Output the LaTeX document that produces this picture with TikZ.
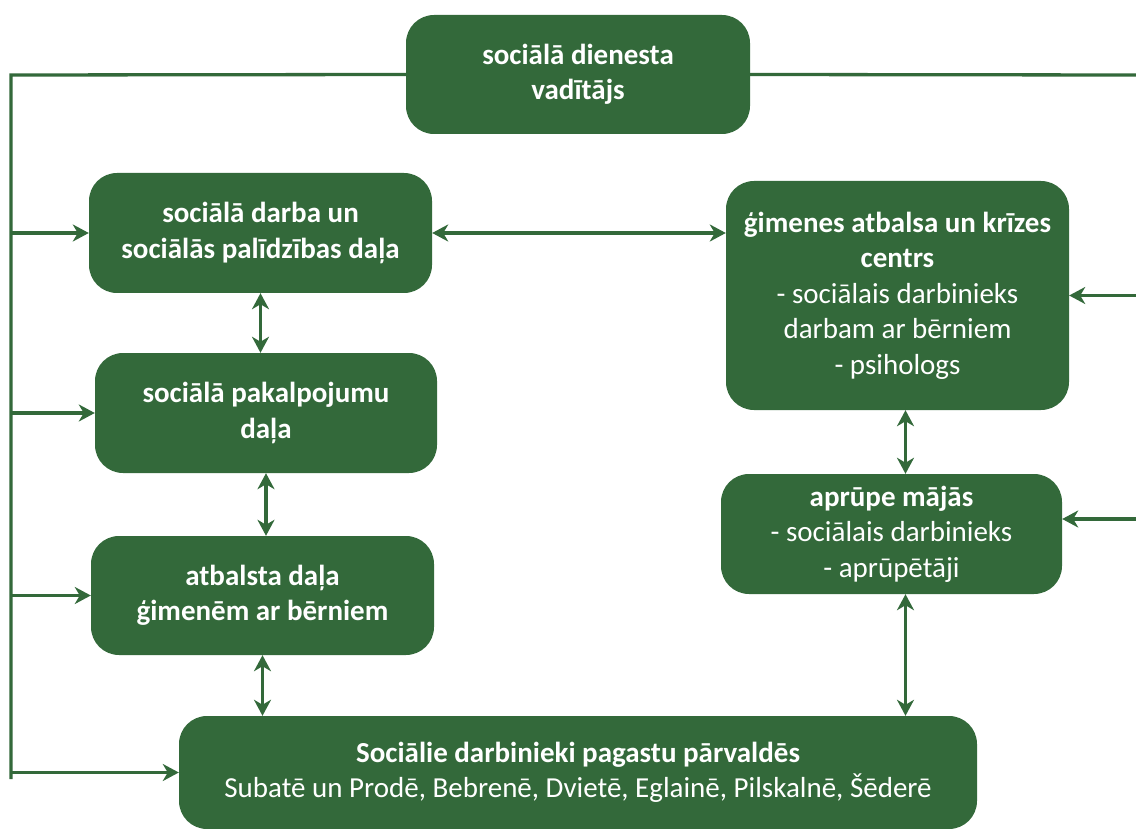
\documentclass[tikz,border=0pt]{standalone}
\usepackage{fontspec}
\setmainfont{Carlito}
\usepackage{xcolor}
\usetikzlibrary{positioning, arrows.meta}
\definecolor{darkgreen}{HTML}{33693A}

\begin{document}
\begin{tikzpicture}[x=1pt, y=-1pt,
  box/.style={fill=darkgreen, rounded corners=28pt, minimum width=343pt, minimum height=120pt, inner sep=0pt, align=center, text=white, font=\fontsize{29}{35.5}\selectfont},
  line/.style={line width=3.3pt, darkgreen},
  arr/.style={-{Stealth[length=16pt, width=17pt, inset=5pt]}, line width=3.3pt, darkgreen},
  dblarr/.style={{Stealth[length=16pt, width=17pt, inset=5pt]}-{Stealth[length=16pt, width=17pt, inset=5pt]}, line width=3.3pt, darkgreen}
]
\useasboundingbox (0,0) rectangle (1136,829);

\node[box, minimum width=344pt, minimum height=119pt] (head) at (578,74.5) {\textbf{sociālā dienesta}\\ \textbf{vadītājs}};
\node[box] (work) at (260.5,233) {\textbf{sociālā darba un}\\ \textbf{sociālās palīdzības daļa}};
\node[box, minimum width=342pt] (serv) at (266,413) {\textbf{sociālā pakalpojumu}\\ \textbf{daļa}};
\node[box, minimum height=119pt] (fam) at (262.5,595.5) {\textbf{atbalsta daļa}\\ \textbf{ģimenēm ar bērniem}};
\node[box, minimum width=798pt, minimum height=113pt] (parish) at (578,772.5) {\textbf{Sociālie darbinieki pagastu pārvaldēs}\\ Subatē un Prodē, Bebrenē, Dvietē, Eglainē, Pilskalnē, Šēderē};
\node[box, minimum height=229pt] (crisis) at (897.5,295.5) {\textbf{ģimenes atbalsa un krīzes}\\ \textbf{centrs}\\ - sociālais darbinieks\\ darbam ar bērniem\\ - psihologs};
\node[box, minimum width=341pt] (care) at (891.5,534) {\textbf{aprūpe mājās}\\ - sociālais darbinieks\\ - aprūpētāji};

% frame lines from the head
\coordinate (lt) at (11,75);
\coordinate (lb) at (11,779);
\coordinate (rt) at (1136,75);
\draw[line] (head.west) -- (lt) -- (lb);
\draw[line] (head.east) -- (rt);

\draw[arr] (lt |- work.west) -- (work.west);
\draw[arr] (lt |- serv.west) -- (serv.west);
\draw[arr] (lt |- fam.west) -- (fam.west);
\draw[arr] (lb |- parish.west) -- (parish.west);
\draw[arr] (rt |- crisis.east) -- (crisis.east);
\draw[arr] ([yshift=15pt]rt |- care.east) -- ([yshift=15pt]care.east);

% links between the parts
\coordinate (cs) at ([xshift=8pt]crisis.south);
\coordinate (ks) at ([xshift=14pt]care.south);
\draw[dblarr] (work.east) -- (work.east -| crisis.west);
\draw[dblarr] (work.south) -- (work.south |- serv.north);
\draw[dblarr] (serv.south) -- (serv.south |- fam.north);
\draw[dblarr] (fam.south) -- (fam.south |- parish.north);
\draw[dblarr] (cs) -- (cs |- care.north);
\draw[dblarr] (ks) -- (ks |- parish.north);

\end{tikzpicture}
\end{document}
